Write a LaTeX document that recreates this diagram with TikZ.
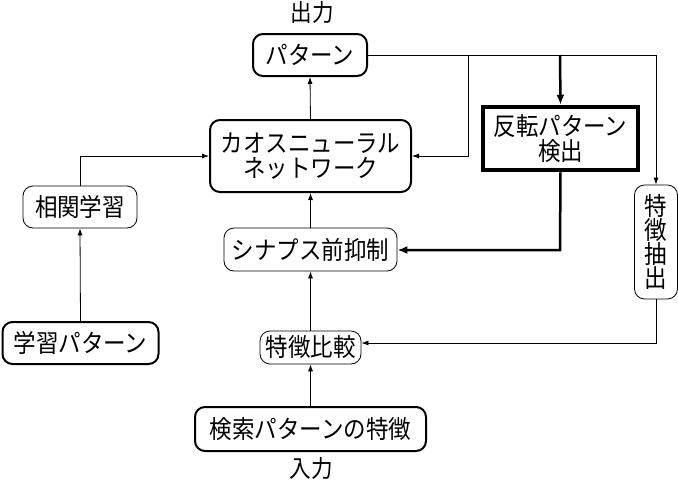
\documentclass[tikz,border=0pt]{standalone}
\usepackage{fontspec}
\setmainfont{Noto Sans CJK JP}[FakeStretch=0.9]
\usetikzlibrary{arrows.meta}
\begin{document}
\begin{tikzpicture}[x=1pt,y=-1pt,
  base/.style={draw, inner sep=0pt, align=center, font=\fontsize{25}{25}\selectfont},
  thinbox/.style={base, rounded corners=10pt, line width=0.8pt},
  thickbox/.style={base, rounded corners=10pt, line width=2pt},
  invbox/.style={base, line width=4.5pt},
  lbl/.style={font=\fontsize{24}{25}\selectfont, inner sep=0pt},
  conn/.style={line width=0.8pt, -{Latex[length=7pt,width=5pt]}},
  bconn/.style={line width=2.5pt, -{Latex[length=10pt,width=8pt]}},
  plain/.style={line width=0.8pt}
]
\useasboundingbox (0,0) rectangle (678,482);

\node[lbl] (out) at (312,12) {出力};
\node[thickbox, minimum width=114pt, minimum height=42pt] (pat) at (310,55) {パターン};
\node[thickbox, minimum width=201pt, minimum height=72pt] (cnn) at (310.5,156) {カオスニューラル\\ネットワーク};
\node[invbox, minimum width=155pt, minimum height=63pt] (inv) at (560.5,138.5) {反転パターン\\検出};
\node[thinbox, minimum width=43pt, minimum height=114pt, font=\fontsize{25}{22}\selectfont] (ext) at (656,242) {特\\徴\\抽\\出};
\node[thinbox, minimum width=114pt, minimum height=42pt] (corr) at (80,207) {相関学習};
\node[thickbox, minimum width=156pt, minimum height=42pt] (learn) at (80.5,343) {学習パターン};
\node[thinbox, minimum width=173pt, minimum height=43pt] (syn) at (310.5,249.5) {シナプス前抑制};
\node[thinbox, minimum width=101pt, minimum height=33pt] (cmp) at (310.5,347.5) {特徴比較};
\node[thickbox, minimum width=231pt, minimum height=44pt] (srch) at (310.5,429) {検索パターンの特徴};
\node[lbl] (in) at (311,468) {入力};

\coordinate (j1) at (468,55);
\coordinate (j2) at (560,55);
\coordinate (j3) at (656,55);
\coordinate (j4) at (468,156);
\coordinate (j5) at (80,156);
\coordinate (j6) at (560,250);
\coordinate (j7) at (656,343);

\draw[conn] (cnn.north) -- (pat.south);
\draw[plain] (pat.east) -- (j3);
\draw[conn] (j1) -- (j4) -- (cnn.east);
\draw[bconn] (j2) -- (inv.north);
\draw[conn] (j3) -- (ext.north);
\draw[bconn] (inv.south) -- (j6) -- (syn.east |- j6);
\draw[conn] (ext.south) -- (j7) -- (cmp.east |- j7);
\draw[conn] (learn.north) -- (corr.south);
\draw[conn] (corr.north) -- (j5) -- (cnn.west |- j5);
\draw[conn] (cmp.north) -- (syn.south);
\draw[conn] (syn.north) -- (cnn.south);
\draw[conn] (srch.north) -- (cmp.south);
\end{tikzpicture}
\end{document}
